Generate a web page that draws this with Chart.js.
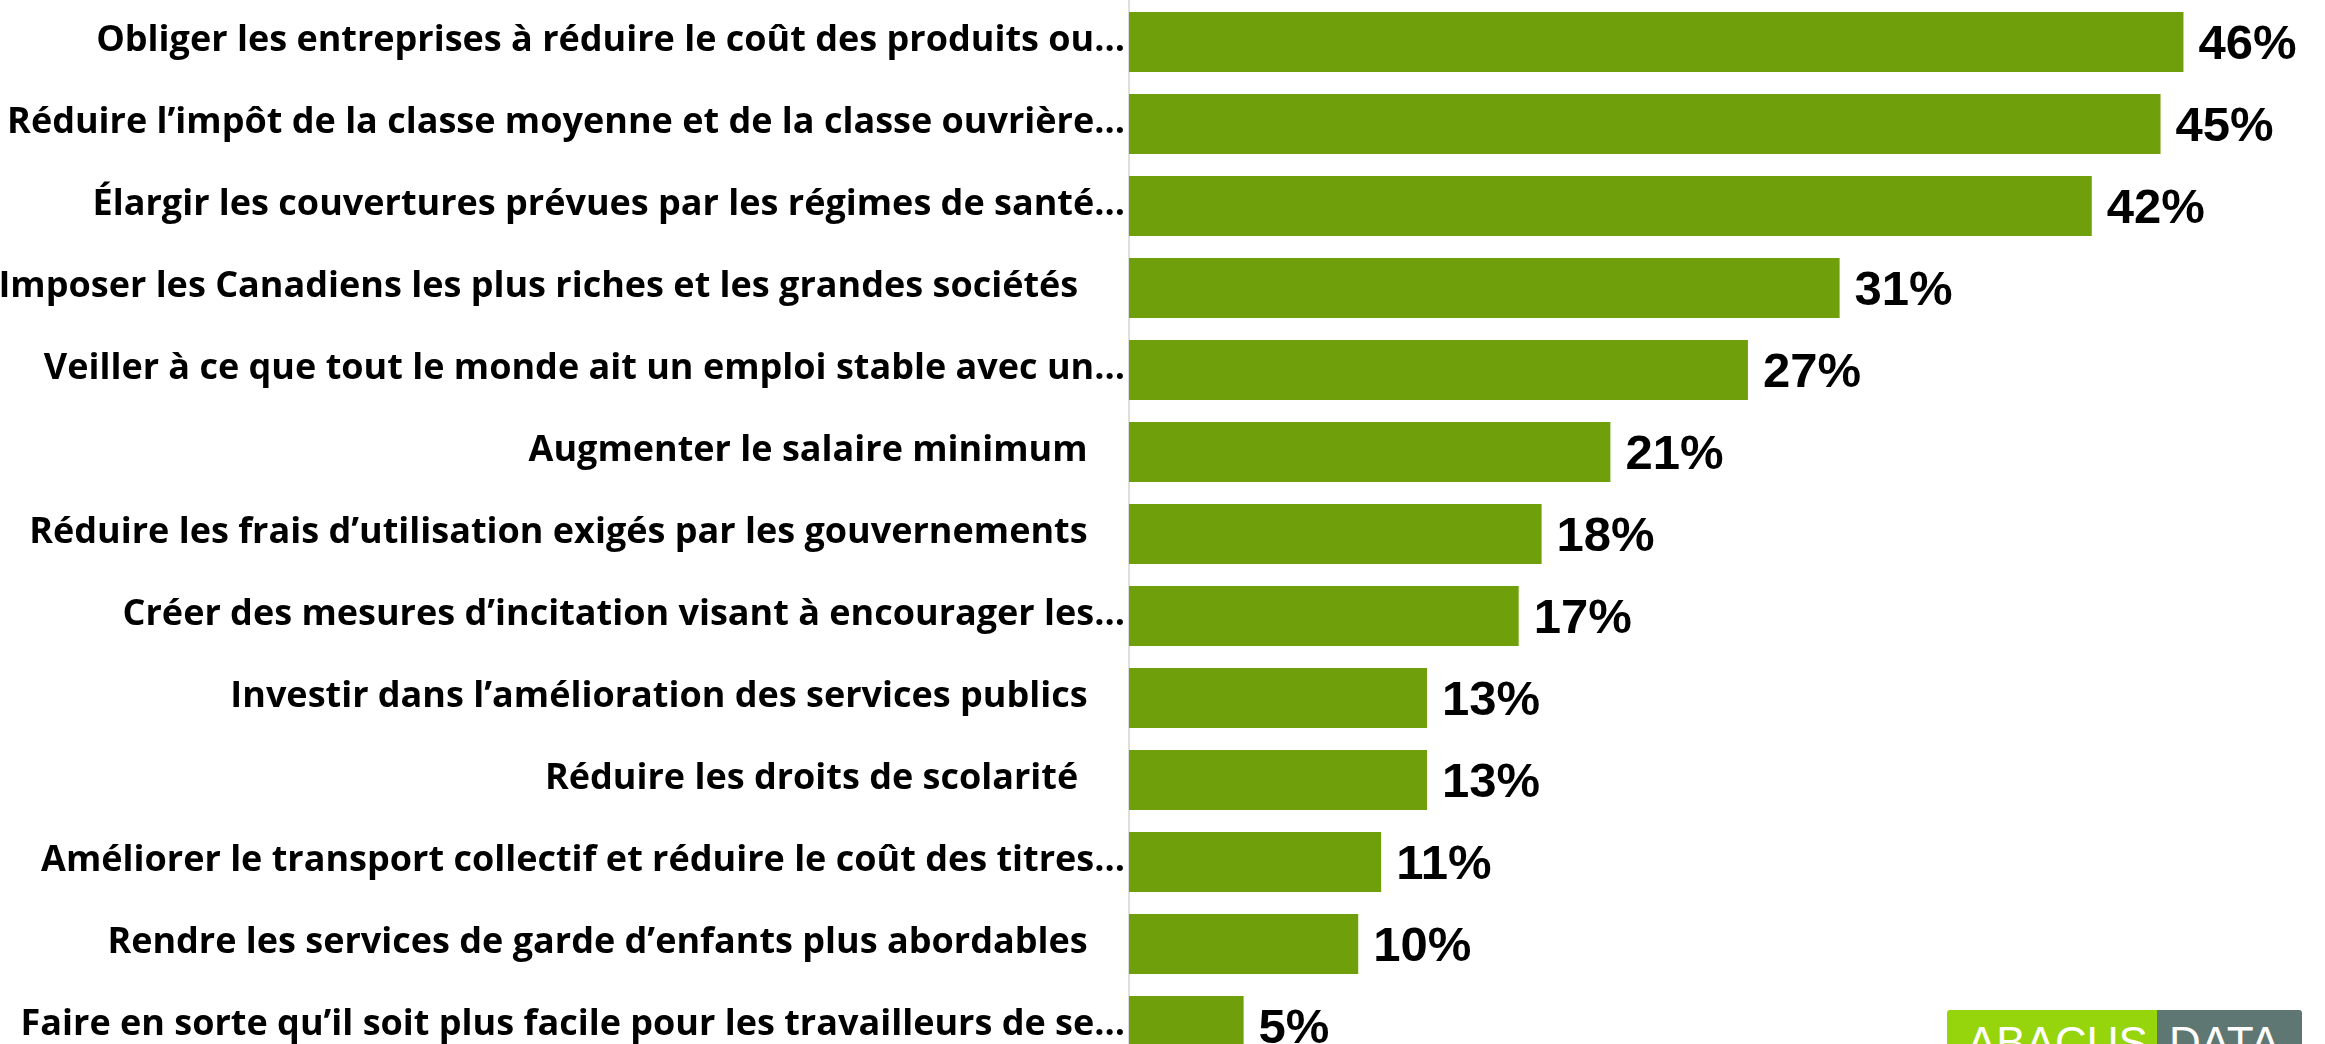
<!DOCTYPE html>
<html>
<head>
<meta charset="utf-8">
<script src="https://cdn.jsdelivr.net/npm/chart.js@4.4.1/dist/chart.umd.min.js"></script>
<style>
  html, body { margin: 0; padding: 0; background: #fff; overflow: hidden; }
  #wrap { position: relative; width: 2325px; height: 1067px; }
  #logo { position: absolute; left: 1947px; top: 1010px; height: 60px; display: flex; font-family: "Liberation Sans", Arial, sans-serif; font-size: 44px; color: #fff; border-radius: 3px; overflow: hidden; }
  #logo .a { background: #96d50c; width: 210px; padding-left: 20px; box-sizing: border-box; padding-top: 8px; }
  #logo .d { background: #5f7773; width: 145px; padding-left: 12px; box-sizing: border-box; padding-top: 8px; }
</style>
</head>
<body>
<div id="wrap">
  <canvas id="chart" width="2325" height="1067"></canvas>
  <div id="logo"><div class="a">ABACUS</div><div class="d">DATA</div></div>
</div>
<script>
// libellés (tels qu'affichés, tronqués)
const categories = [
  "Obliger les entreprises à réduire le coût des produits ou…",
  "Réduire l’impôt de la classe moyenne et de la classe ouvrière…",
  "Élargir les couvertures prévues par les régimes de santé…",
  "Imposer les Canadiens les plus riches et les grandes sociétés     ",
  "Veiller à ce que tout le monde ait un emploi stable avec un…",
  "Augmenter le salaire minimum    ",
  "Réduire les frais d’utilisation exigés par les gouvernements    ",
  "Créer des mesures d’incitation visant à encourager les…",
  "Investir dans l’amélioration des services publics    ",
  "Réduire les droits de scolarité     ",
  "Améliorer le transport collectif et réduire le coût des titres…",
  "Rendre les services de garde d’enfants plus abordables    ",
  "Faire en sorte qu’il soit plus facile pour les travailleurs de se…"
];
const values = [46, 45, 42, 31, 27, 21, 18, 17, 13, 13, 11, 10, 5];

// étiquettes de valeur à droite des barres
const valueLabels = {
  id: 'valueLabels',
  afterDatasetsDraw(chart) {
    const ctx = chart.ctx;
    const meta = chart.getDatasetMeta(0);
    ctx.save();
    ctx.font = "bold 49px 'Liberation Sans', Arial, sans-serif";
    ctx.fillStyle = '#000';
    ctx.textAlign = 'left';
    ctx.textBaseline = 'alphabetic';
    meta.data.forEach((bar, i) => {
      ctx.fillText(values[i] + '%', bar.x + 15, bar.y + 17);
    });
    ctx.restore();
  }
};

new Chart(document.getElementById('chart').getContext('2d'), {
  type: 'bar',
  data: {
    labels: categories,
    datasets: [{ data: values, backgroundColor: '#6fa00b', borderWidth: 0,
                 categoryPercentage: 1, barPercentage: 0.732 }]
  },
  options: {
    indexAxis: 'y',
    responsive: false,
    animation: false,
    layout: { padding: { top: 1, right: 4, left: 0, bottom: 0 } },
    plugins: { legend: { display: false }, tooltip: { enabled: false } },
    scales: {
      x: { display: false, min: 0, max: 52 },
      y: {
        grid: { display: false, drawTicks: false },
        border: { display: true, color: '#dedede', width: 2 },
        ticks: { color: '#000', padding: 4, labelOffset: -1,
                 font: { family: "'Open Sans', sans-serif", size: 36, weight: 'bold' } },
        afterFit(scale) {
          scale.width = 1129;
          scale.paddingTop = 0;
          scale.paddingBottom = 0;
        }
      }
    }
  },
  plugins: [valueLabels]
});
</script>
</body>
</html>
